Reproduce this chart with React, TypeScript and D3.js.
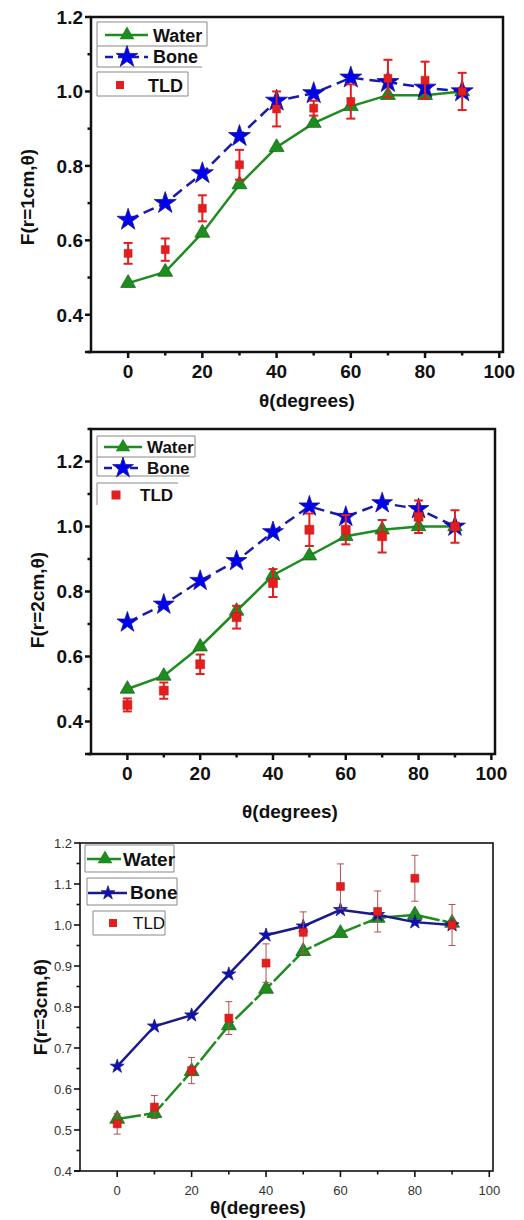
import * as d3 from "d3";

// angles (degrees) shared by all three panels
const angles = [0, 10, 20, 30, 40, 50, 60, 70, 80, 90];

// r = 1 cm
const water1 = [0.485, 0.515, 0.62, 0.75, 0.85, 0.915, 0.96, 0.99, 0.99, 1.0];
const bone1 = [0.655, 0.7, 0.78, 0.88, 0.975, 0.995, 1.037, 1.025, 1.01, 1.0];
const tld1 = [0.565, 0.575, 0.686, 0.803, 0.953, 0.955, 0.973, 1.035, 1.03, 1.0];
const tldErr1 = [0.028, 0.03, 0.035, 0.04, 0.047, 0.02, 0.046, 0.05, 0.05, 0.05];

// r = 2 cm
const water2 = [0.5, 0.54, 0.63, 0.74, 0.85, 0.91, 0.97, 0.99, 1.0, 1.0];
const bone2 = [0.705, 0.76, 0.833, 0.894, 0.983, 1.062, 1.03, 1.072, 1.054, 1.0];
const tld2 = [0.451, 0.495, 0.576, 0.721, 0.826, 0.99, 0.99, 0.97, 1.03, 1.0];
const tldErr2 = [0.02, 0.025, 0.03, 0.035, 0.043, 0.05, 0.045, 0.05, 0.05, 0.05];

// r = 3 cm
const water3 = [0.527, 0.541, 0.643, 0.755, 0.844, 0.936, 0.98, 1.017, 1.025, 1.005];
const bone3 = [0.655, 0.753, 0.78, 0.88, 0.975, 0.997, 1.037, 1.025, 1.007, 1.0];
const tld3 = [0.515, 0.556, 0.645, 0.773, 0.907, 0.982, 1.094, 1.033, 1.114, 1.0];
const tldErr3 = [0.025, 0.028, 0.032, 0.04, 0.047, 0.05, 0.055, 0.05, 0.056, 0.05];

const xTicks = [0, 20, 40, 60, 80, 100];
const seriesNames = ["Water", "Bone", "TLD"];

const FONT = "'Liberation Sans', Arial, sans-serif";
const GREEN = "#1e8c1e";
const BLUE = "#0000f0";
const NAVY = "#1a1a8a";
const RED = "#e41e1e";

type PanelProps = {
  left: number; right: number; top: number; bottom: number;
  yDomain: [number, number];
  yTicks: number[];
  yMinor: number[];
  yFmt: (d: number) => string;
  water: number[]; bone: number[]; tld: number[]; err: number[];
  ylabel: string;
  ylabelX: number; ylabelY: number;
  xlabelX: number; xlabelY: number; xTickY: number;
  bold: boolean; tickSize: number; axisW: number;
  starSize: number; triSize: number; sqSize: number;
  boneDash: string; boneColor: string; waterDash: string;
  errW: number; errColor: string; errCap: number;
  legend: any;
};

function Panel(p: PanelProps) {
  const x = d3.scaleLinear().domain([-10, 101]).range([p.left, p.right]);
  const y = d3.scaleLinear().domain(p.yDomain).range([p.bottom, p.top]);
  const pts = (arr: number[]) => angles.map((a, i) => [a, arr[i]] as [number, number]);
  const line = d3.line<[number, number]>().x(d => x(d[0])).y(d => y(d[1]));
  const star = d3.symbol().type(d3.symbolStar).size(p.starSize)()!;
  const tri = d3.symbol().type(d3.symbolTriangle).size(p.triSize)()!;
  const sq = d3.symbol().type(d3.symbolSquare).size(p.sqSize)()!;
  const xMinor = d3.range(10, 100, 20);
  const fw = p.bold ? "bold" : "normal";
  const tickColor = p.bold ? "#111" : "#333";
  const L = p.legend;

  return (
    <g>
      <rect x={p.left} y={p.top} width={p.right - p.left} height={p.bottom - p.top}
        fill="white" stroke="#111" strokeWidth={p.axisW} />
      {/* y ticks */}
      {p.yTicks.map(t => (
        <g key={"yt" + t}>
          <line x1={p.left - 6} x2={p.left} y1={y(t)} y2={y(t)} stroke="#111" strokeWidth={p.axisW} />
          <text x={p.left - 8} y={y(t)} dy="0.36em" textAnchor="end" fontSize={p.tickSize}
            fontWeight={fw} fill={tickColor} fontFamily={FONT}>{p.yFmt(t)}</text>
        </g>
      ))}
      {p.yMinor.map(t => (
        <line key={"ym" + t} x1={p.left - 3.5} x2={p.left} y1={y(t)} y2={y(t)} stroke="#111" strokeWidth={p.axisW} />
      ))}
      {/* x ticks */}
      {xTicks.map(t => (
        <g key={"xt" + t}>
          <line x1={x(t)} x2={x(t)} y1={p.bottom} y2={p.bottom + 6} stroke="#111" strokeWidth={p.axisW} />
          <text x={x(t)} y={p.xTickY} textAnchor="middle" fontSize={p.tickSize}
            fontWeight={fw} fill={tickColor} fontFamily={FONT}>{t}</text>
        </g>
      ))}
      {xMinor.map(t => (
        <line key={"xm" + t} x1={x(t)} x2={x(t)} y1={p.bottom} y2={p.bottom + 3.5} stroke="#111" strokeWidth={p.axisW} />
      ))}
      <line x1={p.left - 6} x2={p.left} y1={p.bottom} y2={p.bottom} stroke="#111" strokeWidth={p.axisW} />
      {/* axis titles */}
      <text x={p.xlabelX} y={p.xlabelY} textAnchor="middle" fontSize={19} fontWeight="bold"
        fontFamily={FONT} fill="#111">θ(degrees)</text>
      <text transform={`translate(${p.ylabelX},${p.ylabelY}) rotate(-90)`} dy="0.35em" textAnchor="middle"
        fontSize={19} fontWeight="bold" fontFamily={FONT} fill="#111">{p.ylabel}</text>

      {/* Water */}
      <path d={line(pts(p.water))!} fill="none" stroke={GREEN} strokeWidth={2.5} strokeDasharray={p.waterDash} />
      {pts(p.water).map((d, i) => (
        <path key={"w" + i} d={tri} transform={`translate(${x(d[0])},${y(d[1])})`} fill={GREEN} stroke="#176b17" strokeWidth={0.8} />
      ))}
      {/* Bone */}
      <path d={line(pts(p.bone))!} fill="none" stroke={p.boneColor} strokeWidth={2.5} strokeDasharray={p.boneDash} />
      {pts(p.bone).map((d, i) => (
        <path key={"b" + i} d={star} transform={`translate(${x(d[0])},${y(d[1])})`} fill={p.boneColor === NAVY ? "#1010b0" : BLUE} stroke={NAVY} strokeWidth={0.8} />
      ))}
      {/* TLD with error bars */}
      {pts(p.tld).map((d, i) => {
        const cx = x(d[0]);
        const y0 = y(d[1] - p.err[i]);
        const y1 = y(d[1] + p.err[i]);
        return (
          <g key={"t" + i}>
            <line x1={cx} x2={cx} y1={y0} y2={y1} stroke={p.errColor} strokeWidth={p.errW} />
            <line x1={cx - p.errCap} x2={cx + p.errCap} y1={y0} y2={y0} stroke={p.errColor} strokeWidth={p.errW} />
            <line x1={cx - p.errCap} x2={cx + p.errCap} y1={y1} y2={y1} stroke={p.errColor} strokeWidth={p.errW} />
            <path d={sq} transform={`translate(${cx},${y(d[1])})`} fill={RED} stroke="#c01818" strokeWidth={0.5} />
          </g>
        );
      })}

      {/* legend */}
      {L.boxes.map((b: any, i: number) => (
        <path key={"lb" + i} d={b} fill="none" stroke="#888" strokeWidth={1} />
      ))}
      <line x1={L.w.x1} x2={L.w.x2} y1={L.w.y} y2={L.w.y} stroke={GREEN} strokeWidth={2.5} strokeDasharray={L.w.dash} />
      <path d={tri} transform={`translate(${L.w.mx},${L.w.y})`} fill={GREEN} />
      <text x={L.w.tx} y={L.w.ty} fontSize={L.fs} fontWeight="bold" fontFamily={FONT} fill="#111">{seriesNames[0]}</text>
      <line x1={L.b.x1} x2={L.b.x2} y1={L.b.y} y2={L.b.y} stroke={p.boneColor} strokeWidth={2.5} strokeDasharray={L.b.dash} />
      <path d={star} transform={`translate(${L.b.mx},${L.b.y})`} fill={p.boneColor === NAVY ? "#1010b0" : BLUE} stroke={NAVY} strokeWidth={0.8} />
      <text x={L.b.tx} y={L.b.ty} fontSize={L.fs} fontWeight="bold" fontFamily={FONT} fill="#111">{seriesNames[1]}</text>
      <path d={sq} transform={`translate(${L.t.mx},${L.t.y})`} fill={RED} />
      <text x={L.t.tx} y={L.t.ty} fontSize={L.tfs} fontWeight={L.tfw} fontFamily={FONT} fill="#111">{seriesNames[2]}</text>
    </g>
  );
}

const f1 = (d: number) => d.toFixed(1);

export default function App() {
  return (
    <svg width={524} height={1220} style={{ position: "absolute", left: 0, top: 0, background: "white" }}>
      <Panel
        left={91} right={503} top={17} bottom={352}
        yDomain={[0.3, 1.2]} yTicks={[0.4, 0.6, 0.8, 1.0, 1.2]} yMinor={[0.3, 0.5, 0.7, 0.9, 1.1]} yFmt={f1}
        water={water1} bone={bone1} tld={tld1} err={tldErr1}
        ylabel="F(r=1cm,θ)" ylabelX={27} ylabelY={197}
        xlabelX={307} xlabelY={407} xTickY={378}
        bold={true} tickSize={19} axisW={2.5}
        starSize={150} triSize={95} sqSize={64}
        boneDash="11,6" boneColor={"#1a1aa8"} waterDash=""
        errW={2} errColor={RED} errCap={4.5}
        legend={{
          fs: 18, tfs: 18, tfw: "bold",
          boxes: ["M97,22H207V46H97Z", "M97,46V67H202", "M97,72H188V96H97Z"],
          w: { x1: 105, x2: 148, y: 35, mx: 127, tx: 153, ty: 42, dash: "" },
          b: { x1: 105, x2: 148, y: 57, mx: 127, tx: 153, ty: 63, dash: "8,5" },
          t: { mx: 120, y: 85, tx: 148, ty: 92 },
        }}
      />
      <Panel
        left={91} right={495} top={429} bottom={754}
        yDomain={[0.3, 1.3]} yTicks={[0.4, 0.6, 0.8, 1.0, 1.2]} yMinor={[0.3, 0.5, 0.7, 0.9, 1.1, 1.3]} yFmt={f1}
        water={water2} bone={bone2} tld={tld2} err={tldErr2}
        ylabel="F(r=2cm,θ)" ylabelX={37} ylabelY={600}
        xlabelX={290} xlabelY={818} xTickY={780}
        bold={true} tickSize={19} axisW={2.5}
        starSize={135} triSize={90} sqSize={81}
        boneDash="11,6" boneColor={"#1a1aa8"} waterDash=""
        errW={2} errColor={RED} errCap={4.5}
        legend={{
          fs: 17, tfs: 17, tfw: "bold",
          boxes: ["M97,436H195V457H97Z", "M97,457V476H190", "M178,483H97V505"],
          w: { x1: 104, x2: 142, y: 447, mx: 123, tx: 147, ty: 453, dash: "" },
          b: { x1: 104, x2: 142, y: 468, mx: 123, tx: 147, ty: 474, dash: "8,5" },
          t: { mx: 116, y: 495, tx: 140, ty: 501 },
        }}
      />
      <Panel
        left={80} right={493} top={843} bottom={1171}
        yDomain={[0.4, 1.2]} yTicks={[0.4, 0.5, 0.6, 0.7, 0.8, 0.9, 1.0, 1.1, 1.2]}
        yMinor={[0.45, 0.55, 0.65, 0.75, 0.85, 0.95, 1.05, 1.15]} yFmt={f1}
        water={water3} bone={bone3} tld={tld3} err={tldErr3}
        ylabel="F(r=3cm,θ)" ylabelX={40} ylabelY={1007}
        xlabelX={258} xlabelY={1214} xTickY={1195}
        bold={false} tickSize={13} axisW={1.6}
        starSize={60} triSize={95} sqSize={64}
        boneDash="" boneColor={NAVY} waterDash="24,3"
        errW={1} errColor="#b55050" errCap={3.5}
        legend={{
          fs: 19, tfs: 17, tfw: "normal",
          boxes: ["M85,845H174V872H85Z", "M87,878H177V905H87Z", "M93,911H165V935H93Z"],
          w: { x1: 87, x2: 121, y: 859, mx: 105, tx: 123, ty: 866, dash: "" },
          b: { x1: 88, x2: 127, y: 893, mx: 108, tx: 130, ty: 899, dash: "" },
          t: { mx: 113, y: 923, tx: 133, ty: 929 },
        }}
      />
    </svg>
  );
}
